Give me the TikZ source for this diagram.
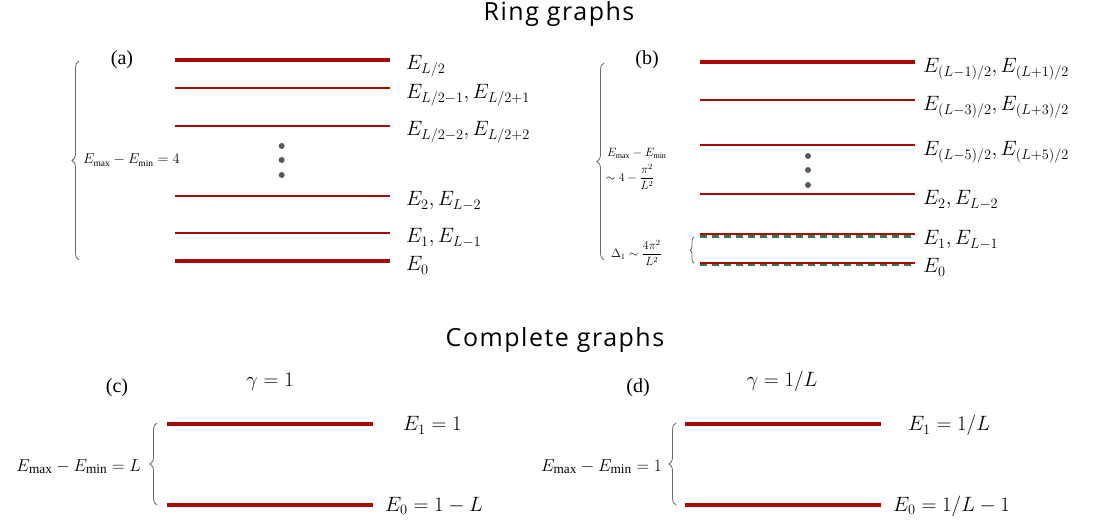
\documentclass[tikz,border=0pt]{standalone}
\usepackage{amsmath}
\usepackage{fontspec}
\setmainfont{Liberation Serif}
\newfontfamily\headfont[LetterSpace=6]{Open Sans}
\usetikzlibrary{decorations.pathreplacing}
\definecolor{levelred}{RGB}{168,10,10}
\definecolor{gapgreen}{RGB}{52,122,74}
\definecolor{bracegray}{RGB}{105,105,105}
\definecolor{dotgray}{RGB}{88,88,96}
\tikzset{
  lvl/.style={draw=levelred,line width=2pt},
  lvlbold/.style={lvl,line width=3.4pt},
  gapdash/.style={draw=gapgreen,line width=2.6pt,dash pattern=on 7pt off 5pt},
  spanbrace/.style={draw=bracegray,line width=0.8pt,decorate,
                    decoration={brace,amplitude=7pt}},
  elab/.style={anchor=base west,inner sep=0pt,font=\fontsize{20}{24}\selectfont},
  wlab/.style={anchor=base east,inner sep=0pt,font=\fontsize{19}{23}\selectfont},
  ptag/.style={anchor=base,inner sep=0pt,font=\fontsize{20}{24}\selectfont},
  bnote/.style={anchor=base west,inner sep=0pt,font=\fontsize{13.5}{16}\selectfont},
  snote/.style={anchor=west,inner sep=0pt,font=\fontsize{12}{14}\selectfont},
  heading/.style={anchor=base,inner sep=0pt,font=\headfont\fontsize{25}{29}\selectfont},
  dotmark/.style={circle,fill=dotgray,inner sep=0pt,minimum size=6pt},
}
\begin{document}
\begin{tikzpicture}[x=1pt,y=-1pt]
  \path[use as bounding box] (0,0) rectangle (1093,521);
  \node[heading] (ring) at (559,21) {Ring graphs};
  \node[heading] (complete) at (555,347) {Complete graphs};

  % (a) ring graph, even L
  \node[ptag] (taga) at (122,65) {(a)};
  \draw[lvlbold] (175,60) -- (390,60);
  \draw[lvl] (175,88) -- (390,88);
  \draw[lvl] (175,125.7) -- (390,125.7);
  \draw[lvl] (175,195.7) -- (390,195.7);
  \draw[lvl] (175,232.7) -- (390,232.7);
  \draw[lvlbold] (175,261) -- (390,261);
  \node[elab] (ahalf) at (406,70) {$E_{L/2}$};
  \node[elab] (aone) at (406,99) {$E_{L/2-1},E_{L/2+1}$};
  \node[elab] (atwo) at (406,136) {$E_{L/2-2},E_{L/2+2}$};
  \node[elab] (aL2) at (406,206) {$E_2,E_{L-2}$};
  \node[elab] (aL1) at (406,243) {$E_1,E_{L-1}$};
  \node[elab] (azero) at (406,271) {$E_0$};
  \foreach \y in {146,160,175}
    \node[dotmark] at (281.7,\y) {};
  \draw[spanbrace] (79,260) -- (79,61);
  \node[bnote] (awidth) at (83,164) {$E_{\max}-E_{\min}=4$};

  % (b) ring graph, odd L
  \node[ptag] (tagb) at (647,65) {(b)};
  \draw[lvlbold] (700,62) -- (915,62);
  \draw[lvl] (700,100) -- (915,100);
  \draw[lvl] (700,145) -- (915,145);
  \draw[lvl] (700,194) -- (915,194);
  \draw[lvl] (700,234) -- (915,234);
  \draw[gapdash] (700,236.7) -- (915,236.7);
  \draw[lvl] (700,262.7) -- (915,262.7);
  \draw[gapdash] (700,265.2) -- (915,265.2);
  \node[elab] (bhalf) at (923,73) {$E_{(L-1)/2},E_{(L+1)/2}$};
  \node[elab] (bone) at (923,111) {$E_{(L-3)/2},E_{(L+3)/2}$};
  \node[elab] (btwo) at (923,156) {$E_{(L-5)/2},E_{(L+5)/2}$};
  \node[elab] (bL2) at (923,205) {$E_2,E_{L-2}$};
  \node[elab] (bL1) at (923,245) {$E_1,E_{L-1}$};
  \node[elab] (bzero) at (923,273) {$E_0$};
  \foreach \y in {156,170,185}
    \node[dotmark] at (808,\y) {};
  \draw[spanbrace] (604,260) -- (604,63);
  \draw[spanbrace,decoration={brace,amplitude=4pt}] (694,263) -- (694,237);
  \node[snote,anchor=base west] (bwidth) at (607,157) {$E_{\max}-E_{\min}$};
  \node[snote] (bwidthb) at (606,177) {$\sim 4-\dfrac{\pi^2}{L^2}$};
  \node[snote] (bgap) at (611,253) {$\Delta_1\sim\dfrac{4\pi^2}{L^2}$};

  % (c) complete graph, gamma = 1
  \node[ptag] (tagc) at (117,392) {(c)};
  \node[ptag] (gammac) at (270,387) {$\gamma=1$};
  \draw[lvlbold] (167,424) -- (373,424);
  \draw[lvlbold] (167,505) -- (373,505);
  \node[elab] (cone) at (403,431) {$E_1=1$};
  \node[elab] (czero) at (385,511) {$E_0=1-L$};
  \draw[spanbrace] (157,505) -- (157,423);
  \node[wlab] (cwidth) at (141,471) {$E_{\max}-E_{\min}=L$};

  % (d) complete graph, gamma = 1/L
  \node[ptag] (tagd) at (638,392) {(d)};
  \node[ptag] (gammad) at (782,387) {$\gamma=1/L$};
  \draw[lvlbold] (685,424) -- (881,424);
  \draw[lvlbold] (685,505) -- (881,505);
  \node[elab] (done) at (908,431) {$E_1=1/L$};
  \node[elab] (dzero) at (893,511) {$E_0=1/L-1$};
  \draw[spanbrace] (676,505) -- (676,423);
  \node[wlab] (dwidth) at (662,471) {$E_{\max}-E_{\min}=1$};
\end{tikzpicture}
\end{document}
